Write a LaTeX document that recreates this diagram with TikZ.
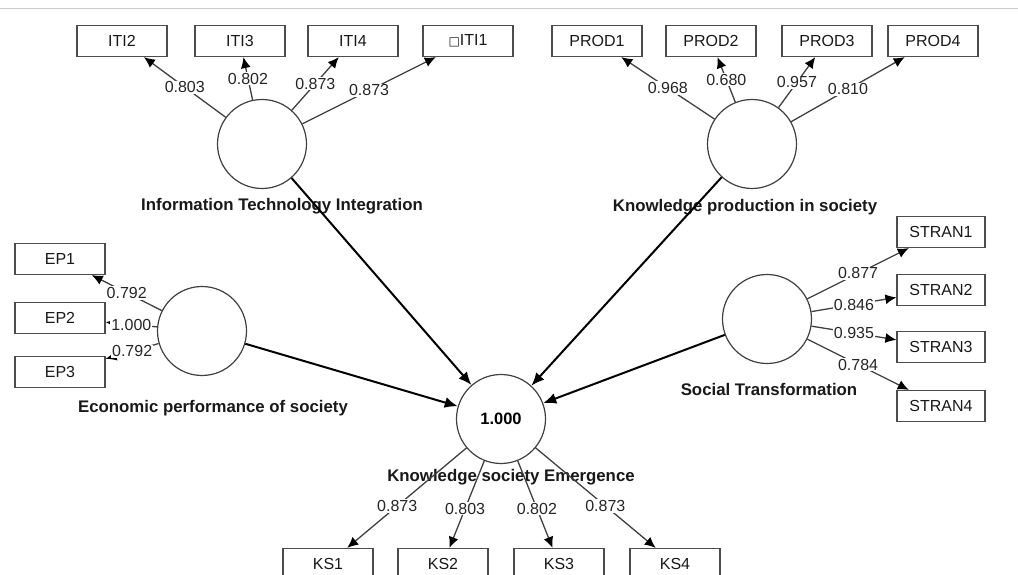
\documentclass[tikz,border=0pt]{standalone}
\usepackage{fontspec}
\setmainfont{Liberation Sans}
\newfontfamily\symfont{DejaVu Sans}
\usetikzlibrary{arrows.meta}

\tikzset{
  ind/.style={rectangle,draw=black!70,line width=1.2pt,fill=white,minimum width=90pt,minimum height=31pt,inner sep=0pt,font=\fontsize{16}{19}\selectfont,text=black!90},
  lat/.style={circle,draw=black!75,line width=1.2pt,fill=white,minimum size=89pt,inner sep=0pt},
  latname/.style={font=\bfseries\fontsize{16.8}{20}\selectfont,text=black!90},
  load/.style={draw=black!75,line width=1.3pt,-{Latex[length=11pt,width=10pt,black]}},
  coef/.style={fill=white,inner sep=1pt,font=\fontsize{16}{19}\selectfont,text=black!85},
  effect/.style={draw=black,line width=2pt,-{Latex[length=13pt,width=11pt]}}
}

\begin{document}
\begin{tikzpicture}[x=1pt,y=-1pt]
	\useasboundingbox (0,0) rectangle (1018,575);
	\clip (0,0) rectangle (1018,575);
	\fill[white] (0,0) rectangle (1018,575);
	\draw[black!20,line width=1pt] (0,9) -- (1018,9);

	% construct names
	\node[latname] at (282,206) {Information Technology Integration};
	\node[latname] at (745,207) {Knowledge production in society};
	\node[latname] at (213,408) {Economic performance of society};
	\node[latname] at (769,389) {Social Transformation};
	\node[latname] at (511,477) {Knowledge society Emergence};

	% latent variables
	\node[lat] (iti) at (262,144) {};
	\node[lat] (prod) at (752,144) {};
	\node[lat] (ep) at (202,331) {};
	\node[lat] (st) at (767,319) {};
	\node[lat,font=\bfseries\fontsize{16.5}{19}\selectfont] (ks) at (501,419) {1.000};

	% indicators
	\node[ind] (iti2) at (122,41) {ITI2};
	\node[ind] (iti3) at (240,41) {ITI3};
	\node[ind] (iti4) at (353,41) {ITI4};
	\node[ind] (iti1) at (468,41) {{\symfont\fontsize{12}{12}\selectfont □}ITI1};
	\node[ind] (prod1) at (597,41) {PROD1};
	\node[ind] (prod2) at (711,41) {PROD2};
	\node[ind] (prod3) at (827,41) {PROD3};
	\node[ind] (prod4) at (933,41) {PROD4};
	\node[ind] (ep1) at (60,259) {EP1};
	\node[ind] (ep2) at (60,318) {EP2};
	\node[ind] (ep3) at (60,372) {EP3};
	\node[ind,minimum width=88pt] (st1) at (941,232) {STRAN1};
	\node[ind,minimum width=88pt] (st2) at (941,290) {STRAN2};
	\node[ind,minimum width=88pt] (st3) at (941,347) {STRAN3};
	\node[ind,minimum width=88pt] (st4) at (941,406) {STRAN4};
	\node[ind] (ks1) at (328,564) {KS1};
	\node[ind] (ks2) at (443,564) {KS2};
	\node[ind] (ks3) at (559,564) {KS3};
	\node[ind] (ks4) at (675,564) {KS4};

	% outer loadings
	\draw[load] (iti) -- node[coef] {0.803} (iti2);
	\draw[load] (iti) -- node[coef] {0.802} (iti3);
	\draw[load] (iti) -- node[coef] {0.873} (iti4);
	\draw[load] (iti) -- node[coef] {0.873} (iti1);
	\draw[load] (prod) -- node[coef] {0.968} (prod1);
	\draw[load] (prod) -- node[coef] {0.680} (prod2);
	\draw[load] (prod) -- node[coef] {0.957} (prod3);
	\draw[load] (prod) -- node[coef] {0.810} (prod4);
	\draw[load] (ep) -- node[coef] {0.792} (ep1);
	\draw[load] (ep) -- node[coef] {1.000} (ep2);
	\draw[load] (ep) -- node[coef] {0.792} (ep3);
	\draw[load] (st) -- node[coef] {0.877} (st1);
	\draw[load] (st) -- node[coef] {0.846} (st2);
	\draw[load] (st) -- node[coef] {0.935} (st3);
	\draw[load] (st) -- node[coef] {0.784} (st4);
	\draw[load] (ks) -- node[coef,pos=.58] {0.873} (ks1);
	\draw[load] (ks) -- node[coef,pos=.55] {0.803} (ks2);
	\draw[load] (ks) -- node[coef,pos=.55] {0.802} (ks3);
	\draw[load] (ks) -- node[coef,pos=.58] {0.873} (ks4);

	% inner model
	\draw[effect] (iti) -- (ks);
	\draw[effect] (prod) -- (ks);
	\draw[effect] (ep) -- (ks);
	\draw[effect] (st) -- (ks);
\end{tikzpicture}
\end{document}
